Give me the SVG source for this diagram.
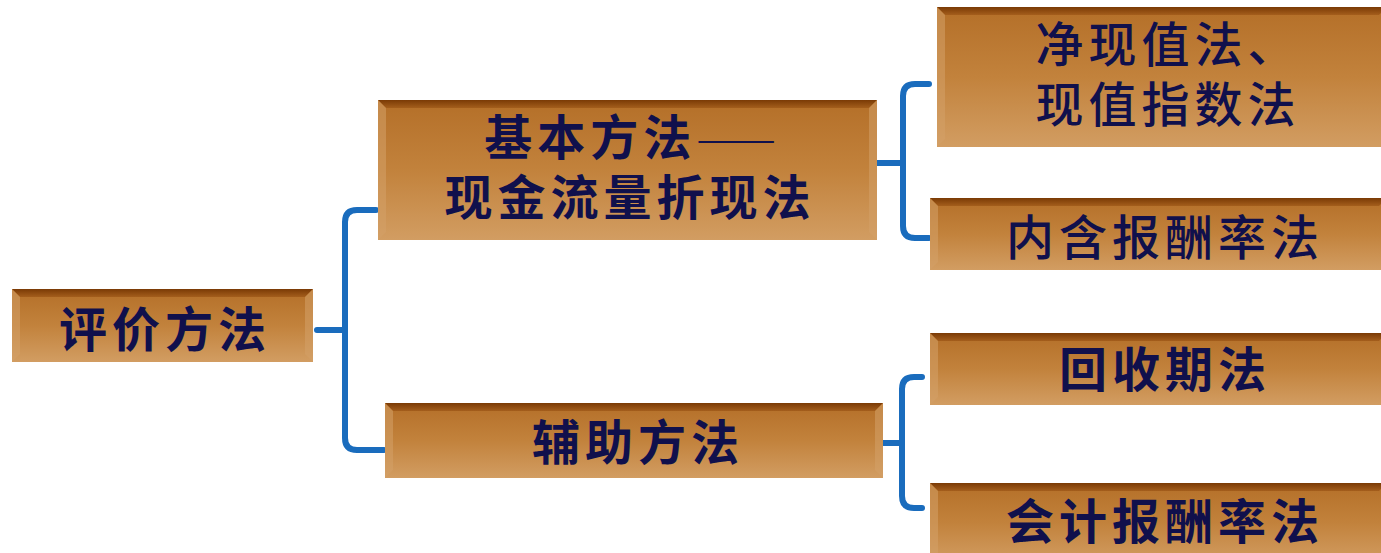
<svg xmlns="http://www.w3.org/2000/svg" width="1381" height="553" viewBox="0 0 1381 553">
<defs>
<linearGradient id="fill" x1="0" y1="0" x2="0" y2="1">
<stop offset="0" stop-color="#b46f28"/>
<stop offset="0.5" stop-color="#c2823c"/>
<stop offset="1" stop-color="#d29d62"/>
</linearGradient>
<linearGradient id="top" x1="0" y1="0" x2="0" y2="1">
<stop offset="0" stop-color="#7a3a05"/>
<stop offset="1" stop-color="#a45e1c"/>
</linearGradient>
</defs>
<style>
.box{fill:url(#fill);}
.bevel{fill:url(#top);}
.side{fill:#d4a068;opacity:0.55;}
.t{font-family:"Noto Sans CJK SC","Noto Sans CJK TC",sans-serif;font-size:48px;fill:#10104c;text-anchor:middle;letter-spacing:5px;}
.b{font-weight:bold;}
.r{font-weight:500;}
.d{font-weight:300;letter-spacing:0;}
.c{fill:none;stroke:#1a6cbd;stroke-width:6;stroke-linecap:round;stroke-linejoin:round;}
</style>
<g id="connectors">
<path class="c" d="M317,330 H345 M376,210 H357 Q345,210 345,222 V438 Q345,450 357,450 H384"/>
<path class="c" d="M874,163 H903 M929,84 H915 Q903,84 903,96 V226 Q903,238 915,238 H929"/>
<path class="c" d="M874,443 H902 M922,377 H914 Q902,377 902,389 V496 Q902,508 914,508 H922"/>
</g>
<g id="n1">
<rect class="box" x="12" y="289" width="301" height="73"/>
<polygon class="bevel" points="12,289 313,289 305,297 20,297"/>
<polygon class="side" points="12,289 20,297 20,354 12,362"/>
<polygon class="side" points="313,289 305,297 305,354 313,362"/>
<text class="t b" x="165" y="347">评价方法</text>
</g>
<g id="n2">
<rect class="box" x="378" y="100" width="499" height="140"/>
<polygon class="bevel" points="378,100 877,100 869,108 386,108"/>
<polygon class="side" points="378,100 386,108 386,232 378,240"/>
<polygon class="side" points="877,100 869,108 869,232 877,240"/>
<text class="t b" x="630" y="155">基本方法<tspan class="d">——</tspan></text>
<text class="t b" x="630" y="215">现金流量折现法</text>
</g>
<g id="n3">
<rect class="box" x="385" y="403" width="498" height="75"/>
<polygon class="bevel" points="385,403 883,403 875,411 393,411"/>
<polygon class="side" points="385,403 393,411 393,470 385,478"/>
<polygon class="side" points="883,403 875,411 875,470 883,478"/>
<text class="t b" x="638" y="460">辅助方法</text>
</g>
<g id="n4">
<rect class="box" x="937" y="7" width="450" height="140"/>
<polygon class="bevel" points="937,7 1387,7 1379,15 945,15"/>
<polygon class="side" points="937,7 945,15 945,139 937,147"/>
<text class="t r" x="1168" y="62">净现值法、</text>
<text class="t r" x="1168" y="122">现值指数法</text>
</g>
<g id="n5">
<rect class="box" x="930" y="198" width="457" height="72"/>
<polygon class="bevel" points="930,198 1387,198 1379,206 938,206"/>
<polygon class="side" points="930,198 938,206 938,262 930,270"/>
<text class="t r" x="1165" y="255">内含报酬率法</text>
</g>
<g id="n6">
<rect class="box" x="930" y="333" width="457" height="72"/>
<polygon class="bevel" points="930,333 1387,333 1379,341 938,341"/>
<polygon class="side" points="930,333 938,341 938,397 930,405"/>
<text class="t b" x="1165" y="387">回收期法</text>
</g>
<g id="n7">
<rect class="box" x="930" y="483" width="457" height="80"/>
<polygon class="bevel" points="930,483 1387,483 1379,491 938,491"/>
<polygon class="side" points="930,483 938,491 938,563 930,571"/>
<text class="t b" x="1165" y="539">会计报酬率法</text>
</g>
</svg>
